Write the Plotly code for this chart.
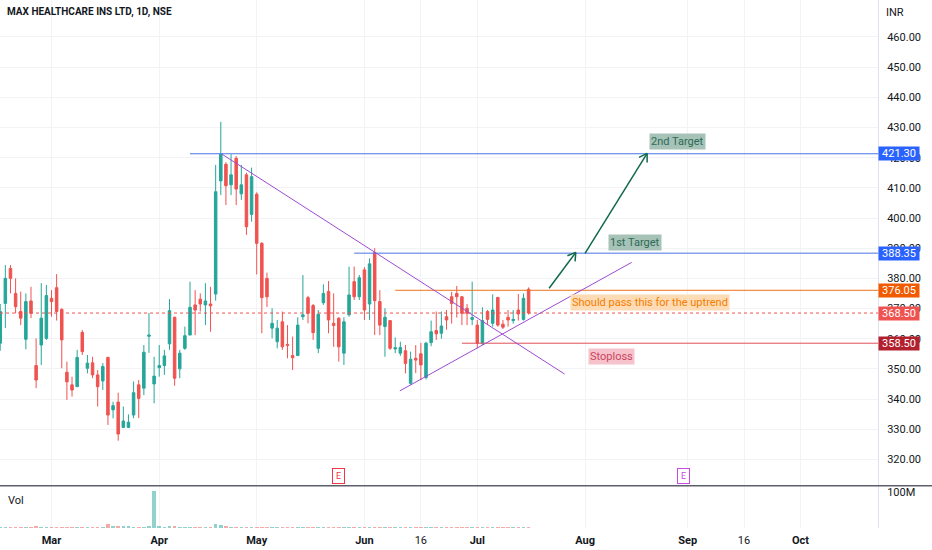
import math

import plotly.graph_objects as go

TITLE = "MAX HEALTHCARE INS LTD, 1D, NSE"

# daily bars, index 0 = first visible session
opens = [
    358.5, 371.7, 383.3, 375.0, 369.0, 359.8, 372.5, 351.1, 357.9, 360.1,
    373.4, 376.9, 369.7, 348.9, 344.7, 344.1, 362.1, 350.2, 352.0, 348.0,
    346.0, 353.8, 336.4, 339.0, 330.6, 330.6, 334.7, 344.7, 343.6, 360.8,
    345.0, 350.4, 351.1, 358.3, 367.1, 350.0, 356.8, 361.2, 371.2, 373.1,
    371.2, 371.5, 374.8, 412.3, 417.8, 411.0, 419.8, 408.0, 414.3, 401.2,
    407.9, 391.6, 380.0, 363.5, 359.0, 365.6, 358.1, 354.4, 354.4, 367.3,
    373.6, 371.0, 356.8, 371.9, 375.6, 365.1, 366.8, 355.2, 367.9, 378.9,
    373.9, 382.8, 371.5, 388.5, 372.3, 364.0, 366.0, 356.6, 355.2, 356.0,
    345.2, 353.5, 355.0, 347.1, 358.7, 362.7, 361.8, 367.3, 373.9, 375.0,
    373.9, 370.1, 366.4, 364.5, 358.5, 369.0, 365.1, 373.7, 364.8, 367.1,
    366.0, 369.5, 366.4, 376.4,
]
highs = [
    371.5, 384.4, 384.4, 380.0, 375.6, 375.0, 377.2, 360.1, 378.4, 377.8,
    376.1, 381.4, 370.1, 352.4, 347.4, 356.3, 362.9, 354.6, 354.0, 349.6,
    351.9, 354.0, 339.1, 342.1, 337.5, 334.9, 345.8, 346.3, 357.9, 368.5,
    354.0, 357.9, 356.3, 373.1, 367.3, 356.3, 364.0, 378.9, 376.1, 375.0,
    378.4, 377.2, 417.6, 431.9, 418.5, 421.1, 420.5, 417.6, 415.0, 416.7,
    408.5, 392.0, 381.9, 370.1, 366.2, 369.0, 364.5, 360.7, 367.1, 381.1,
    374.2, 371.5, 369.5, 378.0, 379.1, 375.0, 367.1, 367.1, 383.9, 383.9,
    381.1, 383.7, 386.6, 390.0, 376.1, 370.1, 366.2, 360.4, 359.0, 357.9,
    355.7, 357.9, 358.6, 359.0, 366.0, 369.0, 369.0, 369.5, 375.5, 377.5,
    374.0, 371.5, 378.9, 366.2, 370.4, 369.5, 374.7, 373.8, 366.2, 369.5,
    369.5, 374.8, 375.0, 377.0,
]
lows = [
    356.0, 363.5, 375.0, 368.4, 364.5, 356.5, 366.8, 343.6, 351.3, 359.6,
    367.3, 366.0, 350.2, 339.7, 340.8, 344.1, 354.6, 348.5, 346.9, 337.5,
    343.0, 331.4, 333.6, 326.2, 330.4, 330.4, 333.6, 333.7, 341.3, 355.3,
    338.6, 347.4, 348.0, 356.3, 344.4, 346.9, 356.3, 361.2, 361.2, 369.0,
    364.5, 362.3, 372.6, 407.6, 404.3, 407.6, 404.3, 406.0, 394.4, 398.8,
    381.3, 361.8, 370.5, 360.1, 356.8, 356.3, 353.5, 349.6, 354.4, 366.2,
    365.1, 359.6, 355.2, 371.2, 361.8, 357.3, 352.4, 351.3, 367.3, 372.8,
    372.8, 366.2, 366.2, 361.2, 361.2, 354.0, 356.3, 355.2, 354.3, 348.5,
    344.7, 348.6, 346.3, 346.5, 357.5, 359.6, 360.0, 363.0, 365.0, 367.0,
    364.5, 364.5, 364.5, 356.8, 357.9, 364.5, 364.0, 364.0, 363.2, 364.0,
    365.0, 366.0, 366.0, 368.0,
]
closes = [
    369.0, 380.0, 380.0, 370.6, 366.8, 372.3, 368.4, 346.3, 366.8, 374.3,
    372.3, 369.0, 359.6, 345.7, 343.0, 353.8, 355.7, 351.9, 348.0, 344.1,
    350.8, 334.7, 337.8, 328.4, 332.7, 332.3, 342.1, 340.2, 355.5, 361.2,
    347.6, 351.1, 354.3, 369.3, 346.9, 355.2, 361.0, 370.4, 369.5, 371.5,
    372.5, 370.9, 408.7, 421.1, 410.7, 414.3, 409.6, 411.0, 397.1, 413.7,
    391.6, 373.6, 373.9, 365.1, 363.5, 357.3, 357.8, 353.7, 364.5, 367.9,
    368.4, 362.0, 368.1, 375.0, 366.2, 364.4, 357.3, 365.6, 374.5, 373.9,
    380.2, 369.5, 384.8, 372.6, 364.5, 367.1, 356.8, 357.0, 357.1, 351.8,
    353.2, 352.9, 351.3, 358.5, 362.3, 361.6, 364.2, 366.2, 371.7, 373.9,
    368.4, 368.4, 367.0, 358.5, 366.0, 366.4, 369.5, 364.5, 363.8, 366.2,
    366.4, 368.2, 373.4, 368.5,
]
# volume in millions of shares
volumes = [
    3.5, 3.2, 3.0, 3.4, 3.1, 3.6, 2.9, 4.2, 3.8, 3.3,
    3.0, 3.5, 3.7, 3.9, 3.2, 3.4, 3.0, 2.8, 3.1, 3.6,
    3.3, 10.0, 5.0, 4.5, 4.8, 4.2, 3.6, 3.4, 3.8, 4.5,
    103.0, 5.2, 4.0, 4.6, 4.4, 3.8, 3.5, 3.9, 3.4, 3.2,
    3.6, 3.3, 12.0, 7.5, 4.5, 3.8, 3.5, 3.2, 3.6, 3.4,
    3.9, 3.7, 3.3, 3.0, 3.2, 3.1, 2.9, 3.0, 3.3, 3.5,
    3.2, 3.0, 3.1, 3.4, 3.3, 3.0, 2.9, 3.1, 3.5, 3.2,
    3.0, 3.3, 3.6, 3.8, 3.2, 3.0, 2.9, 2.8, 2.9, 3.1,
    3.2, 3.0, 3.1, 3.3, 3.2, 3.4, 3.5, 3.1, 3.6, 3.3,
    3.0, 2.9, 3.2, 3.4, 3.1, 3.0, 3.3, 3.1, 2.9, 3.0,
    3.1, 3.2, 3.4, 3.3,
]

tick_bars = [10, 31, 50, 71, 82, 93, 114, 134, 145, 156]
tick_labels = ["<b>Mar</b>", "<b>Apr</b>", "<b>May</b>", "<b>Jun</b>", "16",
               "<b>Jul</b>", "<b>Aug</b>", "<b>Sep</b>", "16", "<b>Oct</b>"]
price_ticks = [320, 330, 340, 350, 360, 370, 380, 390, 400, 410, 420, 430, 440, 450, 460]

# drawings: (start bar, price, colour, label colour)
levels = [
    (37, 421.30, "#4a73e8", "#2962ff"),
    (69, 388.35, "#4a73e8", "#2962ff"),
    (77, 376.05, "#f0701a", "#f05a00"),
    (90, 358.50, "#e0505a", "#b2202e"),
]
last_price = 368.50
down_trend = [(43.2, 421.2), (110.0, 348.3)]
up_trend = [(77.9, 342.7), (123.1, 385.3)]
arrows = [((107.0, 376.7), (112.2, 388.6)), ((114.0, 388.3), (126.1, 421.4))]
notes = [
    ("2nd Target", 132.1, 425.4, "#2d6a58", "#a7c2b7"),
    ("1st Target", 123.7, 391.8, "#2d6a58", "#a7c2b7"),
    ("Should pass this for the uptrend", 126.6, 371.9, "#f57c00", "#fddcb5"),
    ("Stoploss", 119.2, 354.0, "#c8455e", "#f6c3cc"),
]
earnings = [(65.9, "#f23645"), (133.1, "#c64ae0")]

GREEN = "#26a69a"
RED = "#ef5350"
GRID = "#f2f3f6"
FONT = "Roboto"

W, H = 932, 550
M_R, M_B = 54, 22
PLOT_W = W - M_R
PLOT_H = H - M_B
X_RANGE = [-0.04, 171.11]
Y_RANGE = [311.34, 472.26]
PRICE_DOMAIN = [0.0805, 1.0]
VOL_DOMAIN = [0.0, 0.0795]

px_per_bar = PLOT_W / (X_RANGE[1] - X_RANGE[0])
px_per_unit = PLOT_H * (PRICE_DOMAIN[1] - PRICE_DOMAIN[0]) / (Y_RANGE[1] - Y_RANGE[0])

bars = list(range(len(opens)))
vol_colors = [
    "rgba(38,166,154,0.5)" if c >= o else "rgba(239,83,80,0.5)"
    for o, c in zip(opens, closes)
]

fig = go.Figure()
fig.add_trace(
    go.Candlestick(
        x=bars, open=opens, high=highs, low=lows, close=closes,
        increasing=dict(line=dict(color=GREEN, width=1), fillcolor=GREEN),
        decreasing=dict(line=dict(color=RED, width=1), fillcolor=RED),
        whiskerwidth=0, hoverinfo="skip", xaxis="x", yaxis="y",
    )
)
fig.add_trace(
    go.Bar(
        x=bars, y=[v * 1e6 for v in volumes], marker_color=vol_colors,
        marker_line_width=0, width=0.7, hoverinfo="skip", xaxis="x2", yaxis="y2",
    )
)

shapes = []
annotations = []


def seg(x0, y0, x1, y1, color, width=1, dash="solid"):
    shapes.append(dict(type="line", xref="x", yref="y", x0=x0, y0=y0, x1=x1, y1=y1,
                       line=dict(color=color, width=width, dash=dash)))


for start, price, color, box in levels:
    seg(start, price, X_RANGE[1], price, color)
    annotations.append(dict(
        xref="paper", yref="y", x=1.0, y=price, xanchor="left", yanchor="middle",
        text=f"{price:.2f}", showarrow=False, bgcolor=box, width=40, height=13,
        borderpad=0, font=dict(family=FONT, size=11, color="white"),
    ))

seg(X_RANGE[0], last_price, X_RANGE[1], last_price, RED, dash="dot")
annotations.append(dict(
    xref="paper", yref="y", x=1.0, y=last_price, xanchor="left", yanchor="middle",
    text=f"{last_price:.2f}", showarrow=False, bgcolor=RED, width=40, height=13,
    borderpad=0, font=dict(family=FONT, size=11, color="white"),
))

for line in (down_trend, up_trend):
    (x0, y0), (x1, y1) = line
    seg(x0, y0, x1, y1, "#9c4bd3")

for (x0, y0), (x1, y1) in arrows:
    color = "#10694a"
    seg(x0, y0, x1, y1, color, width=1.5)
    dx = (x1 - x0) * px_per_bar
    dy = (y1 - y0) * px_per_unit
    ang = math.atan2(dy, dx)
    for side in (-1, 1):
        a = ang + math.pi + side * math.radians(32)
        hx = x1 + 9 * math.cos(a) / px_per_bar
        hy = y1 + 9 * math.sin(a) / px_per_unit
        seg(x1, y1, hx, hy, color, width=1.5)

for text, x, y, fg, bg in notes:
    annotations.append(dict(
        xref="x", yref="y", x=x, y=y, text=text, showarrow=False, bgcolor=bg,
        borderpad=1, font=dict(family=FONT, size=11, color=fg),
    ))

for x, color in earnings:
    annotations.append(dict(
        xref="x", yref="y", x=x, y=314.4, text="E", showarrow=False, bgcolor="white",
        bordercolor=color, borderwidth=1, borderpad=1, width=9, height=12,
        font=dict(family=FONT, size=9, color=color),
    ))

annotations += [
    dict(xref="paper", yref="paper", x=0.006, y=0.977, xanchor="left", yanchor="middle",
         text=f"<b>{TITLE}</b>", showarrow=False,
         font=dict(family=FONT, size=10, color="#131722")),
    dict(xref="paper", yref="paper", x=1.007, y=0.977, xanchor="left", yanchor="middle",
         text="INR", showarrow=False, font=dict(family=FONT, size=11, color="#131722")),
    dict(xref="paper", yref="paper", x=0.007, y=0.053, xanchor="left", yanchor="middle",
         text="Vol", showarrow=False, font=dict(family=FONT, size=11, color="#131722")),
]

# pane separator across the full width
shapes.append(dict(type="line", xref="paper", yref="paper", x0=0, x1=W / PLOT_W,
                   y0=0.0800, y1=0.0800, line=dict(color="#5d606b", width=1.5)))

fig.update_layout(
    width=W, height=H,
    margin=dict(l=0, r=M_R, t=0, b=M_B),
    paper_bgcolor="white", plot_bgcolor="white",
    showlegend=False, bargap=0, hovermode=False,
    font=dict(family=FONT, size=11, color="#131722"),
    xaxis=dict(domain=[0, 1], range=X_RANGE, anchor="y", rangeslider=dict(visible=False),
               tickvals=tick_bars, showticklabels=False, showgrid=True, gridcolor=GRID,
               zeroline=False, fixedrange=True),
    xaxis2=dict(domain=[0, 1], range=X_RANGE, anchor="y2", matches="x",
                tickvals=tick_bars, ticktext=tick_labels, showgrid=True, gridcolor=GRID,
                zeroline=False, ticks="", ticklabelstandoff=4,
                tickfont=dict(size=11, color="#131722")),
    yaxis=dict(domain=PRICE_DOMAIN, range=Y_RANGE, side="right", anchor="x",
               tickvals=price_ticks, tickformat=".2f", showgrid=True, gridcolor=GRID,
               zeroline=False, ticks="", ticklabelstandoff=6,
               showline=True, linecolor="#e0e3eb", linewidth=1),
    yaxis2=dict(domain=VOL_DOMAIN, range=[0, 116.7e6], side="right", anchor="x2",
                tickvals=[100e6], ticktext=["100M"], showgrid=False, zeroline=False,
                ticks="", ticklabelstandoff=6, showline=True, linecolor="#e0e3eb", linewidth=1),
    shapes=shapes,
    annotations=annotations,
)

# the page body has a default 8px margin; drop it so the figure sits at the window corner
fig.write_html(
    "out.html",
    config={"displayModeBar": False},
    post_script="document.body.style.margin='0px';",
)
